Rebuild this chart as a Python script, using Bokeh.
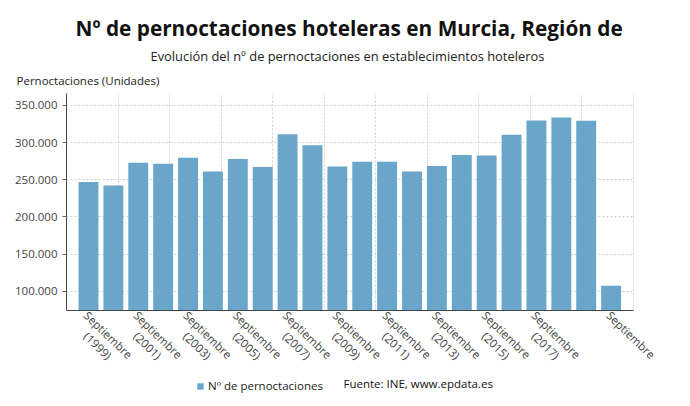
from bokeh.plotting import figure
from bokeh.models import (ColumnDataSource, Range1d, FixedTicker, Legend, LegendItem, Title,
                          Grid, Label)
from bokeh.core.properties import value
from bokeh.embed import file_html
from bokeh.resources import INLINE

years = list(range(1999, 2021))
values = [246800, 242300, 272900, 271500, 279600, 261200, 277700, 267000,
          311000, 296200, 267900, 274200, 274200, 261200, 268300, 283100,
          282700, 310500, 329800, 333800, 329400, 107300]
y_ticks = [100000, 150000, 200000, 250000, 300000, 350000]
y_tick_labels = ["100.000", "150.000", "200.000", "250.000", "300.000", "350.000"]
x_tick_idx = [0, 2, 4, 6, 8, 10, 12, 14, 16, 18, 21]
x_tick_labels = ["Septiembre\n(%d)" % years[i] for i in x_tick_idx[:-1]] + ["Septiembre"]

FONT = "Open Sans"
BAR = "#6aa5ca"
Y0, Y_TOP = 74000, 366000          # value axis shown between these
PLOT_H, EXTRA_H = 217, 88          # px of value area and of label/legend area below it
y_start = Y0 - EXTRA_H * (Y_TOP - Y0) / PLOT_H

AX_W, EXTRA_W = 567, 27            # px of axis width and of extra room on the right for labels
x0, x_end = -0.884, 21.9           # axis extent in category units
x_range_end = x0 + (AX_W + EXTRA_W) * (x_end - x0) / AX_W

src = ColumnDataSource(dict(x=list(range(len(years))), top=values))
lab_src = ColumnDataSource(dict(x=x_tick_idx, y=[Y0] * len(x_tick_idx), text=x_tick_labels))

p = figure(frame_width=AX_W + EXTRA_W, frame_height=PLOT_H + EXTRA_H, output_backend="svg",
           toolbar_location=None, x_axis_location=None,
           x_range=Range1d(x0, x_range_end), y_range=Range1d(y_start, Y_TOP),
           min_border_left=66, min_border_right=22, min_border_top=93, min_border_bottom=0)
p.outline_line_color = None

# grids
for g in p.xgrid:
    g.visible = False
span = x_end - x0
p.add_layout(Grid(dimension=0, ticker=FixedTicker(ticks=[x0 + k * span / 11 for k in range(1, 12)]),
                  cross_bounds=(Y0, Y_TOP), grid_line_color="#d0d0d0", grid_line_dash="2 2"))
p.ygrid.ticker = FixedTicker(ticks=y_ticks)
p.ygrid.cross_bounds = (x0, x_end)
p.ygrid.grid_line_color = "#d0d0d0"
p.ygrid.grid_line_dash = "2 2"

r = p.vbar(x="x", top="top", bottom=Y0, width=0.8, source=src, fill_color=BAR, line_color=None)

# value axis
p.yaxis.ticker = FixedTicker(ticks=y_ticks)
p.yaxis.bounds = (Y0, Y_TOP)
p.yaxis.major_label_overrides = {t: l for t, l in zip(y_ticks, y_tick_labels)}
p.yaxis.minor_tick_line_color = None
p.yaxis.major_tick_out = 4
p.yaxis.major_tick_in = 0
p.yaxis.axis_line_color = "#444444"
p.yaxis.major_tick_line_color = "#666666"
p.yaxis.major_label_text_font = FONT
p.yaxis.major_label_text_font_size = "11.5px"
p.yaxis.major_label_text_color = "#444444"

# category axis line and labels
p.segment(x0=[x0], y0=[Y0], x1=[x_end], y1=[Y0], line_color="#444444", line_width=1)
p.text(x="x", y="y", text="text", source=lab_src, angle=-0.77,
       x_offset=25, y_offset=19, text_align="center", text_baseline="top",
       text_font=value(FONT), text_font_size="11.5px", text_color="#444444",
       text_line_height=1.0)

# titles: p.title is outermost; later add_layout items go further out
p.title.text = "Nº de pernoctaciones hoteleras en Murcia, Región de"
p.title.align = "left"
p.title.offset = 9
p.title.text_font = FONT
p.title.text_font_size = "20.8px"
p.title.text_font_style = "bold"
p.title.text_color = "#111111"
p.title.standoff = 5
p.add_layout(Title(text="Pernoctaciones (Unidades)", align="left", offset=-50,
                   text_font=FONT, text_font_size="11.5px", text_font_style="normal",
                   text_color="#222222", standoff=11), "above")
p.add_layout(Title(text="Evolución del nº de pernoctaciones en establecimientos hoteleros",
                   align="left", offset=84, text_font=FONT, text_font_size="12.9px",
                   text_font_style="normal", text_color="#222222", standoff=1), "above")

legend = Legend(items=[LegendItem(label="Nº de pernoctaciones", renderers=[r])],
                location=(130, 5), orientation="horizontal",
                label_text_font=FONT, label_text_font_size="11.5px", label_text_color="#222222",
                glyph_width=8, glyph_height=8, border_line_color=None, background_fill_alpha=0,
                padding=2, margin=0, label_standoff=4)
p.add_layout(legend)
p.add_layout(Label(x=277, y=15, x_units="screen", y_units="screen",
                   text="Fuente: INE, www.epdata.es", text_font=FONT, text_font_size="11.5px",
                   text_color="#111111", text_baseline="middle", text_align="left"))

open("out.html", "w").write(file_html(p, INLINE))
